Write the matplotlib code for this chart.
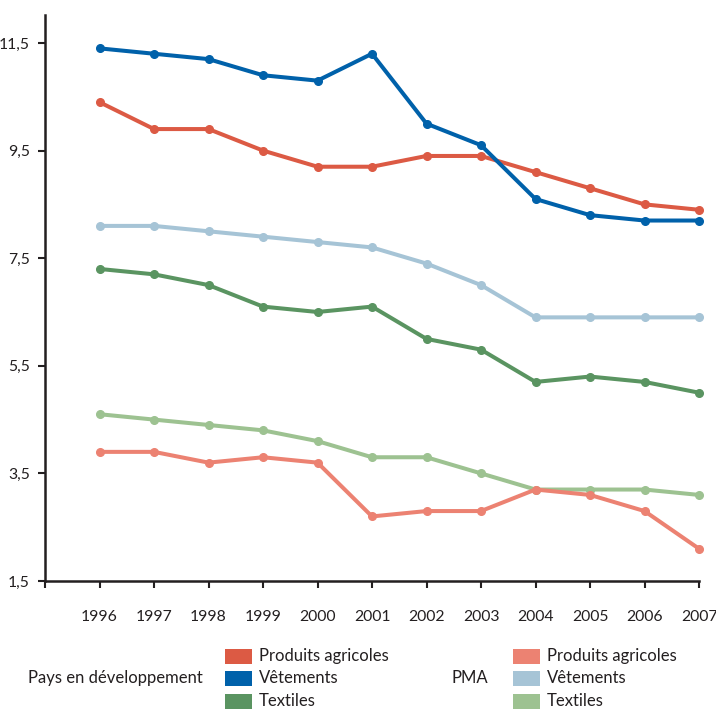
import numpy as np
import matplotlib
matplotlib.use('Agg')
import matplotlib.pyplot as plt
from matplotlib.patches import Rectangle
from matplotlib.ticker import FuncFormatter

plt.rcParams['font.family'] = ['Lato', 'DejaVu Sans']

# data
years = list(range(1996, 2008))
dev_agri = [10.4, 9.9, 9.9, 9.5, 9.2, 9.2, 9.4, 9.4, 9.1, 8.8, 8.5, 8.4]
dev_vet = [11.4, 11.3, 11.2, 10.9, 10.8, 11.3, 10.0, 9.6, 8.6, 8.3, 8.2, 8.2]
dev_tex = [7.3, 7.2, 7.0, 6.6, 6.5, 6.6, 6.0, 5.8, 5.2, 5.3, 5.2, 5.0]
pma_agri = [3.9, 3.9, 3.7, 3.8, 3.7, 2.7, 2.8, 2.8, 3.2, 3.1, 2.8, 2.1]
pma_vet = [8.1, 8.1, 8.0, 7.9, 7.8, 7.7, 7.4, 7.0, 6.4, 6.4, 6.4, 6.4]
pma_tex = [4.6, 4.5, 4.4, 4.3, 4.1, 3.8, 3.8, 3.5, 3.2, 3.2, 3.2, 3.1]

series_labels = ['Produits agricoles', 'Vêtements', 'Textiles']
group_labels = ['Pays en développement', 'PMA']
yticks = [1.5, 3.5, 5.5, 7.5, 9.5, 11.5]

c_dev = ['#dc5a44', '#0061aa', '#5a9461']
c_pma = ['#ec8272', '#a6c4d6', '#9dc291']

W, H = 716, 709
fig = plt.figure(figsize=(W / 100, H / 100), dpi=100)
ax = fig.add_axes([45 / W, 1 - 581 / H, 654 / W, 566 / H])

series = [pma_tex, pma_agri, dev_tex, pma_vet, dev_agri, dev_vet]
colors = [c_pma[2], c_pma[0], c_dev[2], c_pma[1], c_dev[0], c_dev[1]]
for s, c in zip(series, colors):
    ax.plot(years, s, color=c, lw=2.9, marker='o', markersize=5.5,
            solid_capstyle='round', clip_on=False)

ax.set_xlim(1995, 2007)
ax.set_ylim(1.5, 12.02)
ax.set_yticks(yticks)
ax.yaxis.set_major_formatter(FuncFormatter(lambda v, p: ('%.1f' % v).replace('.', ',')))
ax.set_xticks(list(range(1995, 2008)))
ax.set_xticklabels([''] + [str(y) for y in years])

for side in ['top', 'right']:
    ax.spines[side].set_visible(False)
for side in ['left', 'bottom']:
    ax.spines[side].set_linewidth(1.8)
    ax.spines[side].set_color('#231f20')
ax.tick_params(axis='both', direction='out', length=5, width=1.5, color='#231f20',
               labelsize=11.3, labelcolor='#231f20')
ax.tick_params(axis='x', pad=16)
ax.tick_params(axis='y', pad=6)

# legend
def px(x, y):
    return x / W, 1 - y / H

rows = [656, 678, 701]
fig.text(*px(28, 678), group_labels[0], fontsize=12, color='#231f20', va='center')
fig.text(*px(452, 678), group_labels[1], fontsize=12, color='#231f20', va='center')
for i in range(3):
    for x0, cols in [(225, c_dev), (513, c_pma)]:
        fx, fy = px(x0, rows[i] + 7.5)
        fig.add_artist(Rectangle((fx, fy), 27 / W, 15 / H, transform=fig.transFigure,
                                 color=cols[i], lw=0))
        fig.text(*px(x0 + 34, rows[i]), series_labels[i], fontsize=12,
                 color='#231f20', va='center')

fig.savefig('out.png', dpi=100)
